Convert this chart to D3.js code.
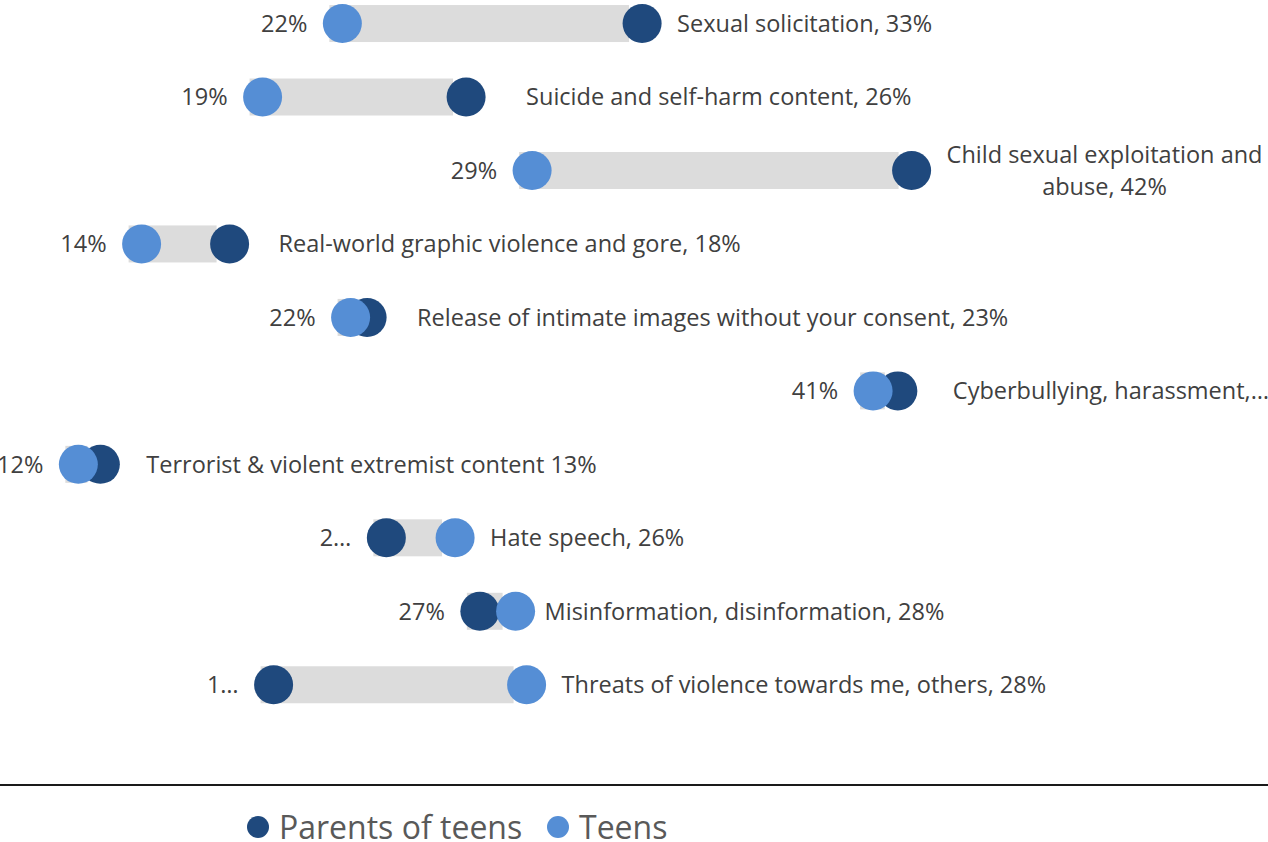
<!DOCTYPE html>
<html>
<head>
<meta charset="utf-8">
<script src="https://cdn.jsdelivr.net/npm/d3@7"></script>
<style>
  html, body { margin: 0; padding: 0; background: #fff; }
  svg { display: block; }
  text { font-family: "Open Sans", "Noto Sans", sans-serif; }
</style>
</head>
<body>
<svg id="chart" width="1268" height="842"></svg>
<script>
// Share of respondents concerned about each online harm
const categories = [
  "Sexual solicitation",
  "Suicide and self-harm content",
  "Child sexual exploitation and abuse",
  "Real-world graphic violence and gore",
  "Release of intimate images without your consent",
  "Cyberbullying, harassment, and abuse",
  "Terrorist & violent extremist content",
  "Hate speech",
  "Misinformation, disinformation",
  "Threats of violence towards me, others"
];
const parents = [32.6, 26.2, 42.4, 17.6, 22.6, 41.9, 12.9, 23.3, 26.7, 19.2];
const teens   = [21.7, 18.8, 28.6, 14.4, 22.0, 41.0, 12.1, 25.8, 28.0, 28.4];
const seriesNames = ["Parents of teens", "Teens"];

// Label layout per row
const labelSep      = [", ", ", ", ", ", ", ", ", ", ", ", " ", ", ", ", ", ", "];
const rightLabelGap = [35, 60, 35, 49, 50, 55, 46, 35, 29, 35];
const rightLabelFit = ["line", "line", "wrap", "line", "line", "clip", "line", "line", "line", "line"];
const leftLabelBox  = [null, null, null, null, null, null, null, 30, null, 30];

const W = 1268, H = 842;
const colors = { parent: "#1F497D", teen: "#558ED5", bar: "#DCDCDC", text: "#404040" };
const R = 19.5;

const svg = d3.select("#chart");

const x = d3.scaleLinear().domain([10, 45]).range([20.6, 983.1]);
const y = d3.scaleBand().domain(categories).range([-13.2, 721.5]).paddingInner(0).paddingOuter(0);
const cy = d => y(d) + y.bandwidth() / 2;

const rows = categories.map((c, i) => ({
  cat: c, i, p: parents[i], t: teens[i],
  lo: Math.min(parents[i], teens[i]), hi: Math.max(parents[i], teens[i])
}));

const fmt = v => Math.round(v) + "%";

// connecting bands
svg.append("g").selectAll("rect").data(rows).join("rect")
  .attr("x", d => x(d.lo) - 13)
  .attr("width", d => x(d.hi) - x(d.lo))
  .attr("y", d => cy(d.cat) - 18.5)
  .attr("height", 37)
  .attr("fill", colors.bar);

// parent markers, then teen markers on top
svg.append("g").selectAll("circle").data(rows).join("circle")
  .attr("cx", d => x(d.p)).attr("cy", d => cy(d.cat)).attr("r", R)
  .attr("fill", colors.parent);
svg.append("g").selectAll("circle").data(rows).join("circle")
  .attr("cx", d => x(d.t)).attr("cy", d => cy(d.cat)).attr("r", R)
  .attr("fill", colors.teen);

const labels = svg.append("g").attr("font-size", 23.5).attr("fill", colors.text);

// left value labels
rows.forEach(d => {
  const t = labels.append("text")
    .attr("x", x(d.lo) - 35).attr("y", cy(d.cat)).attr("dy", "0.36em")
    .attr("text-anchor", "end").text(fmt(d.lo));
  const box = leftLabelBox[d.i];
  if (box) {
    let s = fmt(d.lo);
    while (s.length > 1 && t.node().getComputedTextLength() > box) {
      s = s.slice(0, -1);
      t.text(s + "\u2026");
    }
  }
});

// right category labels
rows.forEach(d => {
  const full = d.cat + labelSep[d.i] + fmt(d.hi);
  const x0 = x(d.hi) + rightLabelGap[d.i];
  const avail = W - x0;
  const mode = rightLabelFit[d.i];
  const t = labels.append("text")
    .attr("x", x0).attr("y", cy(d.cat)).attr("dy", "0.36em").text(full);
  if (mode === "clip") {
    // the clipped label may run right up to the edge
    const words = full.split(" ");
    while (words.length > 1 && t.node().getComputedTextLength() > avail + 6) {
      words.pop();
      t.text(words.join(" ") + "\u2026");
    }
  } else if (mode === "wrap" && t.node().getComputedTextLength() > avail) {
    const words = full.split(" ");
    const lines = [];
    let cur = [];
    words.forEach(w => {
      cur.push(w);
      t.text(cur.join(" "));
      if (t.node().getComputedTextLength() > avail && cur.length > 1) {
        cur.pop();
        lines.push(cur.join(" "));
        cur = [w];
      }
    });
    lines.push(cur.join(" "));
    // block starts at x0; lines are centred on the widest one
    let widest = 0;
    lines.forEach(ln => {
      t.text(ln);
      widest = Math.max(widest, t.node().getComputedTextLength());
    });
    const lh = 32;
    t.text(null).attr("x", null).attr("dy", null).attr("text-anchor", "middle");
    lines.forEach((ln, k) => {
      t.append("tspan")
        .attr("x", x0 + widest / 2)
        .attr("y", cy(d.cat) + (k - (lines.length - 1) / 2) * lh)
        .attr("dy", "0.36em")
        .text(ln);
    });
  }
});

// separator rule above legend
svg.append("line")
  .attr("x1", 0).attr("x2", W).attr("y1", 785).attr("y2", 785)
  .attr("stroke", "#1a1a1a").attr("stroke-width", 2);

// legend
const legend = svg.append("g").attr("transform", "translate(0,827)");
const legendItems = [
  { name: seriesNames[0], color: colors.parent, x: 258 },
  { name: seriesNames[1], color: colors.teen, x: 558 }
];
legendItems.forEach(it => {
  legend.append("circle").attr("cx", it.x).attr("cy", 0).attr("r", 11).attr("fill", it.color);
  legend.append("text").attr("x", it.x + 21).attr("y", 0).attr("dy", "0.36em")
    .attr("font-size", 32).attr("fill", "#595959").text(it.name);
});
</script>
</body>
</html>
